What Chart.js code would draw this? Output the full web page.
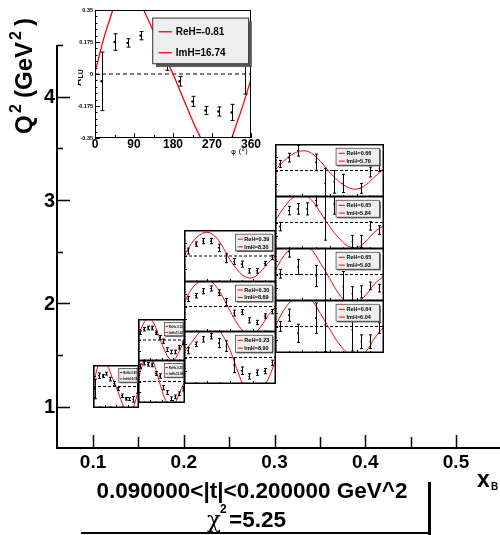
<!DOCTYPE html>
<html>
<head>
<meta charset="utf-8">
<script src="https://cdn.jsdelivr.net/npm/chart.js@4.4.1/dist/chart.umd.min.js"></script>
<style>
  html, body { margin: 0; padding: 0; background: #fff; }
  #wrap { position: relative; width: 500px; height: 535px; overflow: hidden; }
  #wrap canvas { position: absolute; }
</style>
</head>
<body>
<div id="wrap"><canvas id="main" width="500" height="535" style="left:0;top:0"></canvas></div>
<script>
// main axes
const xTicks = [0.1, 0.2, 0.3, 0.4, 0.5];
const xTickLabels = ['0.1', '0.2', '0.3', '0.4', '0.5'];
const yTicks = [1, 2, 3, 4];
const yTickLabels = ['1', '2', '3', '4'];

// phi bins of the asymmetry and points
const phiBins = [15, 45, 75, 105, 135, 165, 195, 225, 255, 285, 315, 345];
const fitPhi = [0, 30, 60, 90, 120, 150, 180, 210, 240, 270, 300, 330, 360];
const insetYTicks = [0.35, 0.175, 0, -0.175, -0.35];
const insetYLabels = ['0.35', '0.175', '0', '-0.175', '-0.35'];
const insetXTicks = [0, 90, 180, 270, 360];

// Q2 edges of the pads in each xB column
const xbEdges = [0.1, 0.15, 0.2, 0.3, 0.42];
const q2Col1 = [1.0, 1.4];
const q2Col2 = [1.05, 1.45, 1.85];
const q2Col3 = [1.23, 1.73, 2.22, 2.71];
const q2Col4 = [1.53, 2.03, 2.54, 3.04, 3.54];

// column 1 (also the zoomed pad top left)
const alu11 = [-0.04, 0.175, 0.17, 0.21, 0.12, 0.05, -0.04, -0.15, -0.2, -0.205, -0.21, 0.09];
const err11 = [0.16, 0.045, 0.023, 0.023, 0.03, 0.03, 0.026, 0.028, 0.022, 0.025, 0.044, 0.2];
const fit11 = [0.01, 0.27, 0.43, 0.44, 0.31, 0.15, 0, -0.17, -0.33, -0.45, -0.42, -0.25, -0.03];
const par11 = ['ReH=-0.81', 'ImH=16.74'];

// column 2, bottom to top
const alu21 = [0.25, 0.3, 0.28, 0.27, 0.13, 0.09, -0.1, -0.18, -0.28, -0.25, -0.2, -0.12];
const err21 = [0.035, 0.03, 0.03, 0.03, 0.03, 0.035, 0.035, 0.03, 0.03, 0.03, 0.03, 0.035];
const fit21 = [0, 0.25, 0.4, 0.42, 0.3, 0.1, -0.12, -0.3, -0.4, -0.4, -0.28, -0.12, 0];
const par21 = ['ReH=-0.35', 'ImH=13.08'];
const alu22 = [0.12, 0.18, 0.2, 0.2, 0.12, 0.04, -0.02, -0.16, -0.2, -0.2, -0.12, -0.05];
const err22 = [0.03, 0.03, 0.03, 0.03, 0.03, 0.035, 0.035, 0.03, 0.03, 0.03, 0.03, 0.03];
const fit22 = [0.03, 0.22, 0.33, 0.36, 0.28, 0.12, -0.05, -0.2, -0.31, -0.34, -0.26, -0.12, 0.02];
const par22 = ['ReH=-0.12', 'ImH=11.52'];

// column 3, bottom to top
const alu31 = [0.09, 0.175, 0.24, 0.28, 0.19, 0.15, -0.1, -0.175, -0.25, -0.2, -0.18, -0.07];
const err31 = [0.04, 0.03, 0.035, 0.035, 0.06, 0.07, 0.1, 0.05, 0.035, 0.035, 0.035, 0.035];
const fit31 = [0.07, 0.2, 0.33, 0.42, 0.42, 0.3, 0.1, -0.18, -0.42, -0.52, -0.45, -0.28, -0.02];
const par31 = ['ReH=0.23', 'ImH=8.90'];
const alu32 = [0.103, 0.148, 0.21, 0.247, 0.19, 0.06, -0.09, -0.076, -0.19, -0.22, -0.13, -0.07];
const err32 = [0.035, 0.03, 0.035, 0.035, 0.04, 0.05, 0.04, 0.035, 0.035, 0.03, 0.03, 0.03];
const fit32 = [0.05, 0.24, 0.34, 0.37, 0.3, 0.14, -0.06, -0.24, -0.36, -0.37, -0.28, -0.12, 0];
const par32 = ['ReH=0.30', 'ImH=8.69'];
const alu33 = [0.066, 0.16, 0.2, 0.2, 0.11, -0.03, -0.075, -0.11, -0.2, -0.2, -0.1, -0.02];
const err33 = [0.04, 0.03, 0.035, 0.035, 0.05, 0.06, 0.04, 0.04, 0.03, 0.03, 0.025, 0.03];
const fit33 = [0, 0.17, 0.28, 0.32, 0.27, 0.13, -0.05, -0.19, -0.28, -0.29, -0.21, -0.09, 0.01];
const par33 = ['ReH=0.39', 'ImH=8.30'];

// column 4, bottom to top (null = no point in that bin)
const alu41 = [0, 0.15, -0.09, null, 0.11, 0.02, null, null, -0.045, -0.2, -0.2, -0.02];
const err41 = [0.065, 0.08, 0.12, null, 0.2, 0.35, null, null, 0.28, 0.09, 0.09, 0.07];
const fit41 = [0, 0.22, 0.36, 0.42, 0.35, 0.17, -0.03, -0.22, -0.35, -0.4, -0.33, -0.15, 0];
const par41 = ['ReH=0.64', 'ImH=6.04'];
const alu42 = [0.01, 0.3, 0.1, null, -0.02, 0, null, -0.16, -0.25, -0.23, -0.15, -0.18];
const err42 = [0.058, 0.07, 0.1, null, 0.14, 0.6, null, 0.2, 0.09, 0.08, 0.05, 0.05];
const fit42 = [0.05, 0.25, 0.36, 0.4, 0.33, 0.15, -0.05, -0.25, -0.37, -0.37, -0.27, -0.12, -0.02];
const par42 = ['ReH=0.65', 'ImH=5.93'];
const alu43 = [-0.054, 0.157, 0.18, 0.18, 0.29, 0.067, 0.24, null, -0.25, -0.25, -0.045, -0.1];
const err43 = [0.056, 0.056, 0.07, 0.08, 0.07, 0.3, 0.13, null, 0.08, 0.08, 0.056, 0.056];
const fit43 = [0.02, 0.2, 0.33, 0.37, 0.3, 0.13, -0.05, -0.2, -0.31, -0.33, -0.25, -0.12, -0.04];
const par43 = ['ReH=0.65', 'ImH=5.84'];
const alu44 = [0.086, 0.17, 0.26, null, 0.107, -0.17, -0.15, -0.17, null, -0.236, -0.02, 0.03];
const err44 = [0.047, 0.058, 0.07, null, 0.11, 0.2, 0.15, 0.12, null, 0.065, 0.065, 0.043];
const fit44 = [0, 0.13, 0.22, 0.26, 0.23, 0.12, -0.02, -0.14, -0.22, -0.245, -0.19, -0.08, 0.02];
const par44 = ['ReH=0.66', 'ImH=5.79'];

const FONT = '"Liberation Sans", Arial, sans-serif';
const wrap = document.getElementById('wrap');

// main frame: axes, labels, titles and the t-bin box
const axes = {
  id: 'axes',
  beforeDraw(chart) {
    const ctx = chart.ctx;
    ctx.save();
    ctx.fillStyle = '#fff';
    ctx.fillRect(0, 0, chart.width, chart.height);
    ctx.restore();
  },
  afterDraw(chart) {
    const {ctx, chartArea: a, scales: {x, y}} = chart;
    ctx.save();
    ctx.strokeStyle = '#000';
    ctx.lineWidth = 2;
    ctx.beginPath();
    ctx.moveTo(a.left, a.top);
    ctx.lineTo(a.left, a.bottom);
    ctx.lineTo(a.right, a.bottom);
    ctx.stroke();

    ctx.lineWidth = 1.5;
    ctx.beginPath();
    for (let k = 2; k <= 10; k++) {
      const px = Math.round(x.getPixelForValue(k * 0.05)) + 0.5;
      const len = k % 2 === 0 ? 13 : 11;
      ctx.moveTo(px, a.bottom);
      ctx.lineTo(px, a.bottom - len);
    }
    for (let k = 2; k <= 9; k++) {
      const py = Math.round(y.getPixelForValue(k * 0.5)) + 0.5;
      const len = k % 2 === 0 ? 13 : 6;
      ctx.moveTo(a.left, py);
      ctx.lineTo(a.left + len, py);
    }
    ctx.stroke();

    ctx.fillStyle = '#000';
    ctx.font = 'bold 19px ' + FONT;
    ctx.textAlign = 'center';
    ctx.textBaseline = 'middle';
    xTicks.forEach((v, i) => ctx.fillText(xTickLabels[i], x.getPixelForValue(v), 463));
    ctx.font = 'bold 20px ' + FONT;
    ctx.textAlign = 'right';
    yTicks.forEach((v, i) => ctx.fillText(yTickLabels[i], 55, y.getPixelForValue(v) + 1));

    // x axis title
    ctx.textAlign = 'left';
    ctx.textBaseline = 'alphabetic';
    ctx.font = 'bold 23px ' + FONT;
    ctx.fillText('x', 477, 487);
    ctx.font = 'bold 10px ' + FONT;
    ctx.fillText('B', 491, 490);

    // y axis title, rotated
    ctx.save();
    ctx.translate(32, 134);
    ctx.rotate(-Math.PI / 2);
    ctx.font = 'bold 24px ' + FONT;
    ctx.fillText('Q', 0, 0);
    ctx.fillText('(GeV', 36, 0);
    ctx.fillText(')', 108, 0);
    ctx.font = 'bold 16px ' + FONT;
    ctx.fillText('2', 21, -11);
    ctx.fillText('2', 94, -11);
    ctx.restore();

    // t-bin box
    ctx.font = 'bold 22.5px ' + FONT;
    ctx.textAlign = 'center';
    ctx.fillText('0.090000<|t|<0.200000 GeV^2', 252, 498);
    ctx.textAlign = 'left';
    ctx.font = '23px "DejaVu Serif", serif';
    ctx.fillText('\u03c7', 207, 527);
    ctx.font = 'bold 12px ' + FONT;
    ctx.fillText('2', 220, 513);
    ctx.font = 'bold 22.5px ' + FONT;
    ctx.fillText('=5.25', 229, 527);
    ctx.fillRect(428, 482, 3, 53);
    ctx.fillRect(81, 532, 350, 2);
    ctx.restore();
  }
};

const mainChart = new Chart(document.getElementById('main'), {
  type: 'scatter',
  data: { datasets: [] },
  options: {
    responsive: false,
    animation: false,
    events: [],
    layout: { autoPadding: false, padding: { left: 57, top: 45, right: 0, bottom: 87 } },
    plugins: { legend: { display: false }, tooltip: { enabled: false } },
    scales: {
      x: { type: 'linear', min: 0.0603, max: 0.5485, display: false },
      y: { type: 'linear', min: 0.6, max: 4.5, display: false }
    }
  },
  plugins: [axes]
});

// decorations of one asymmetry pad
const deco = {
  id: 'deco',
  afterDatasetsDraw(chart, args, o) {
    const {ctx, chartArea: a, scales: {x, y}} = chart;
    ctx.save();
    ctx.beginPath();
    ctx.rect(a.left, a.top, a.width, a.height);
    ctx.clip();
    ctx.strokeStyle = '#000';
    ctx.lineWidth = 1;
    chart.data.datasets.forEach(ds => {
      if (!ds.withErrors) return;
      ds.data.forEach(p => {
        const px = Math.round(x.getPixelForValue(p.x)) + 0.5;
        const y1 = y.getPixelForValue(p.y + p.e);
        const y2 = y.getPixelForValue(p.y - p.e);
        ctx.beginPath();
        ctx.moveTo(px, y1); ctx.lineTo(px, y2);
        ctx.moveTo(px - o.cap, y1); ctx.lineTo(px + o.cap, y1);
        ctx.moveTo(px - o.cap, y2); ctx.lineTo(px + o.cap, y2);
        ctx.stroke();
      });
    });
    ctx.restore();

    ctx.save();
    ctx.strokeStyle = '#000';
    ctx.lineWidth = 1;
    ctx.beginPath();
    for (let i = -10; i <= 10; i++) {
      const py = Math.round(y.getPixelForValue(i * 0.035)) + 0.5;
      const len = i % 5 === 0 ? o.tick : o.tick / 2;
      ctx.moveTo(a.left, py);
      ctx.lineTo(a.left + len, py);
    }
    for (let i = 0; i <= 8; i++) {
      const px = Math.round(x.getPixelForValue(i * 45)) + 0.5;
      const len = i % 2 === 0 ? o.tick : o.tick * 0.6;
      ctx.moveTo(px, a.bottom);
      ctx.lineTo(px, a.bottom - len);
    }
    ctx.stroke();

    ctx.lineWidth = o.frame;
    ctx.strokeRect(a.left + o.frame / 2, a.top + o.frame / 2, a.width - o.frame, a.height - o.frame);

    // legend box with shadow
    const b = o.box;
    const bx = a.left + b[0] * a.width, by = a.top + b[1] * a.height;
    const bw = (b[2] - b[0]) * a.width, bh = (b[3] - b[1]) * a.height;
    const sh = Math.max(1, bh * 0.07);
    ctx.fillStyle = '#5a5a5a';
    ctx.fillRect(bx + sh, by + sh, bw, bh);
    ctx.fillStyle = '#eeeeee';
    ctx.fillRect(bx, by, bw, bh);
    ctx.strokeStyle = '#333';
    ctx.lineWidth = o.big ? 1 : 0.7;
    ctx.strokeRect(bx, by, bw, bh);
    const fs = o.big ? 10 : 5.5 * Math.min(1, a.width / 90);
    ctx.font = 'bold ' + fs + 'px ' + FONT;
    ctx.textAlign = 'left';
    ctx.textBaseline = 'middle';
    o.lines.forEach((t, i) => {
      const ly = by + bh * (i === 0 ? 0.3 : 0.76);
      ctx.strokeStyle = '#ff0000';
      ctx.lineWidth = o.big ? 1.3 : 1;
      ctx.beginPath();
      ctx.moveTo(bx + bw * 0.06, ly);
      ctx.lineTo(bx + bw * 0.2, ly);
      ctx.stroke();
      ctx.fillStyle = '#000';
      ctx.fillText(t, bx + bw * 0.24, ly + 0.5);
    });

    if (o.big) {
      ctx.fillStyle = '#000';
      ctx.font = 'bold 5.5px ' + FONT;
      ctx.textAlign = 'right';
      insetYTicks.forEach((v, i) => ctx.fillText(insetYLabels[i], a.left - 2, y.getPixelForValue(v)));
      ctx.font = 'bold 12px ' + FONT;
      ctx.textAlign = 'center';
      ctx.textBaseline = 'top';
      insetXTicks.forEach(v => ctx.fillText(String(v), x.getPixelForValue(v), a.bottom + 1));
      ctx.font = '7.5px "DejaVu Sans", sans-serif';
      ctx.textAlign = 'right';
      ctx.textBaseline = 'alphabetic';
      ctx.fillText('\u03c6 (\u00b0)', a.right - 3, a.bottom + 16);
      ctx.save();
      ctx.translate(a.left - 14, a.top + 76);
      ctx.rotate(-Math.PI / 2);
      ctx.textAlign = 'left';
      ctx.font = 'bold 10px ' + FONT;
      ctx.fillText('A', 0, 0);
      ctx.font = 'bold 7px ' + FONT;
      ctx.fillText('LU', 7.5, 2);
      ctx.restore();
    }
    ctx.restore();
  }
};

function makePad(box, alu, err, fit, par, big) {
  const pad = big ? { left: 17, top: 10, right: 12, bottom: 21 } : { left: 0, top: 0, right: 0, bottom: 0 };
  const c = document.createElement('canvas');
  c.width = box.right - box.left + pad.left + pad.right;
  c.height = box.bottom - box.top + pad.top + pad.bottom;
  c.style.left = (box.left - pad.left) + 'px';
  c.style.top = (box.top - pad.top) + 'px';
  wrap.appendChild(c);
  const points = phiBins.map((phi, i) => ({ x: phi, y: alu[i], e: err[i] })).filter(p => p.y !== null);
  return new Chart(c, {
    type: 'scatter',
    data: {
      datasets: [
        { data: points, withErrors: true, pointRadius: big ? 1.2 : 0.8, backgroundColor: '#000', borderWidth: 0 },
        { type: 'line', data: fitPhi.map((phi, i) => ({ x: phi, y: fit[i] })), borderColor: '#ff0000',
          borderWidth: big ? 1.3 : 1, pointRadius: 0, tension: 0.4, fill: false, clip: 0 },
        { type: 'line', data: [{ x: 0, y: 0 }, { x: 360, y: 0 }], borderColor: '#000', borderWidth: 1,
          borderDash: big ? [4, 3] : [3, 2], pointRadius: 0, fill: false }
      ]
    },
    options: {
      responsive: false,
      animation: false,
      events: [],
      layout: { autoPadding: false, padding: pad },
      plugins: {
        legend: { display: false },
        tooltip: { enabled: false },
        deco: {
          big: big,
          lines: par,
          box: big ? [0.37, 0.063, 0.985, 0.42] : [0.56, 0.08, 0.96, 0.4],
          cap: big ? 2 : 1.5,
          tick: big ? 5 : 3,
          frame: big ? 1 : 1.5
        }
      },
      scales: {
        x: { type: 'linear', min: 0, max: 360, display: false },
        y: { type: 'linear', min: -0.35, max: 0.35, display: false }
      }
    },
    plugins: [deco]
  });
}

const xs = mainChart.scales.x, ys = mainChart.scales.y;
function binBox(x0, x1, q0, q1) {
  return {
    left: Math.round(xs.getPixelForValue(x0)),
    right: Math.round(xs.getPixelForValue(x1)) + 1,
    top: Math.round(ys.getPixelForValue(q1)),
    bottom: Math.round(ys.getPixelForValue(q0)) + 1
  };
}

const columns = [
  { q2: q2Col1, pads: [[alu11, err11, fit11, par11]] },
  { q2: q2Col2, pads: [[alu21, err21, fit21, par21], [alu22, err22, fit22, par22]] },
  { q2: q2Col3, pads: [[alu31, err31, fit31, par31], [alu32, err32, fit32, par32], [alu33, err33, fit33, par33]] },
  { q2: q2Col4, pads: [[alu41, err41, fit41, par41], [alu42, err42, fit42, par42], [alu43, err43, fit43, par43], [alu44, err44, fit44, par44]] }
];
columns.forEach((col, ci) => {
  col.pads.forEach((p, j) => {
    const box = binBox(xbEdges[ci], xbEdges[ci + 1], col.q2[j], col.q2[j + 1]);
    makePad(box, p[0], p[1], p[2], p[3], false);
  });
});

// enlarged copy of the first pad
makePad({ left: 95, top: 10, right: 251, bottom: 138 }, alu11, err11, fit11, par11, true);
</script>
</body>
</html>
